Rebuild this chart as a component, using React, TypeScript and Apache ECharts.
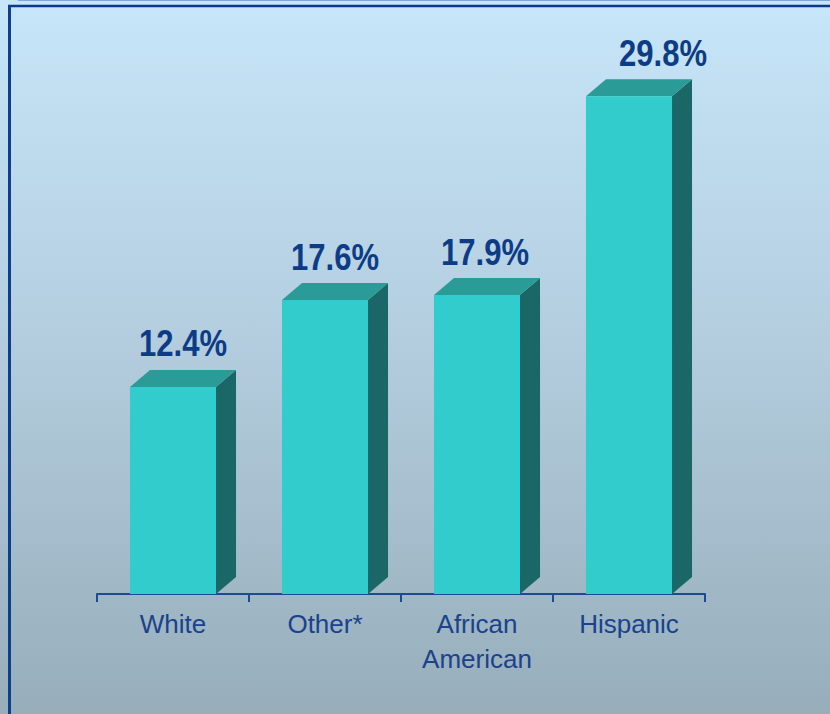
import React, { useEffect, useRef } from "react";
import * as echarts from "echarts";

const categories = ["White", "Other*", "African\nAmerican", "Hispanic"];
const values = [12.4, 17.6, 17.9, 29.8];
const valueLabels = ["12.4%", "17.6%", "17.9%", "29.8%"];

const SANS = '"Liberation Sans", Arial, Helvetica, sans-serif';
const labelNudge = [10, 10, 8, 34];

export default function App() {
  const ref = useRef<HTMLDivElement>(null);
  useEffect(() => {
    if (!ref.current) return;
    const chart = echarts.init(ref.current, null, { renderer: "svg" });
    const option: any = {
      animation: false,
      backgroundColor: new echarts.graphic.LinearGradient(0, 0, 0, 1, [
        { offset: 0, color: "#C7E6F9" },
        { offset: 0.5, color: "#B2CCDD" },
        { offset: 1, color: "#97ADBA" },
      ]),
      grid: { left: 97, right: 125, top: 93, bottom: 120 },
      xAxis: {
        type: "category",
        data: categories,
        boundaryGap: true,
        axisLine: { show: true, lineStyle: { color: "#1E4A94", width: 2 } },
        axisTick: { show: true, length: 8, lineStyle: { color: "#1E4A94", width: 2 } },
        axisLabel: {
          interval: 0,
          color: "#1B428C",
          fontFamily: SANS,
          fontSize: 26,
          lineHeight: 35,
          margin: 12,
        },
      },
      yAxis: { type: "value", min: 0, max: 30, show: false, splitLine: { show: false } },
      series: [
        {
          type: "custom",
          data: values.map((v, i) => [i, v]),
          encode: { x: 0, y: 1 },
          renderItem: (params: any, api: any) => {
            const idx = api.value(0);
            const v = api.value(1);
            const top = api.coord([idx, v]);
            const base = api.coord([idx, 0]);
            const bw = api.size([1, 0])[0] * 0.566;
            const x0 = top[0] - bw / 2;
            const x1 = top[0] + bw / 2;
            const yT = top[1];
            const yB = base[1];
            const dx = 20;
            const dy = 17;
            return {
              type: "group",
              children: [
                {
                  type: "polygon",
                  shape: { points: [[x1, yT], [x1 + dx, yT - dy], [x1 + dx, yB - dy], [x1, yB]] },
                  style: { fill: "#1B6767" },
                },
                {
                  type: "polygon",
                  shape: { points: [[x0, yT], [x0 + dx, yT - dy], [x1 + dx, yT - dy], [x1, yT]] },
                  style: { fill: "#2A9B97" },
                },
                {
                  type: "rect",
                  shape: { x: x0, y: yT, width: bw, height: yB - yT },
                  style: { fill: "#33CCCC" },
                },
                {
                  type: "text",
                  x: top[0] + labelNudge[params.dataIndex],
                  y: yT - dy - 8,
                  scaleX: 0.84,
                  style: {
                    text: valueLabels[params.dataIndex],
                    x: 0,
                    y: 0,
                    align: "center",
                    verticalAlign: "bottom",
                    fontFamily: SANS,
                    fontWeight: "bold",
                    fontSize: 37,
                    fill: "#0D3C86",
                  },
                },
              ],
            };
          },
        },
      ],
      graphic: [
        { type: "line", shape: { x1: 18, y1: 0.5, x2: 830, y2: 0.5 }, style: { stroke: "#7FA8D6", lineWidth: 1 } },
        { type: "line", shape: { x1: 8, y1: 6, x2: 830, y2: 6 }, style: { stroke: "#0B3A86", lineWidth: 2.5 } },
        { type: "line", shape: { x1: 9.5, y1: 5, x2: 9.5, y2: 714 }, style: { stroke: "#0F3F8C", lineWidth: 3 } },
      ],
    };
    chart.setOption(option);
    return () => chart.dispose();
  }, []);
  return (
    <div
      ref={ref}
      style={{ position: "absolute", left: 0, top: 0, width: 830, height: 714 }}
    />
  );
}
